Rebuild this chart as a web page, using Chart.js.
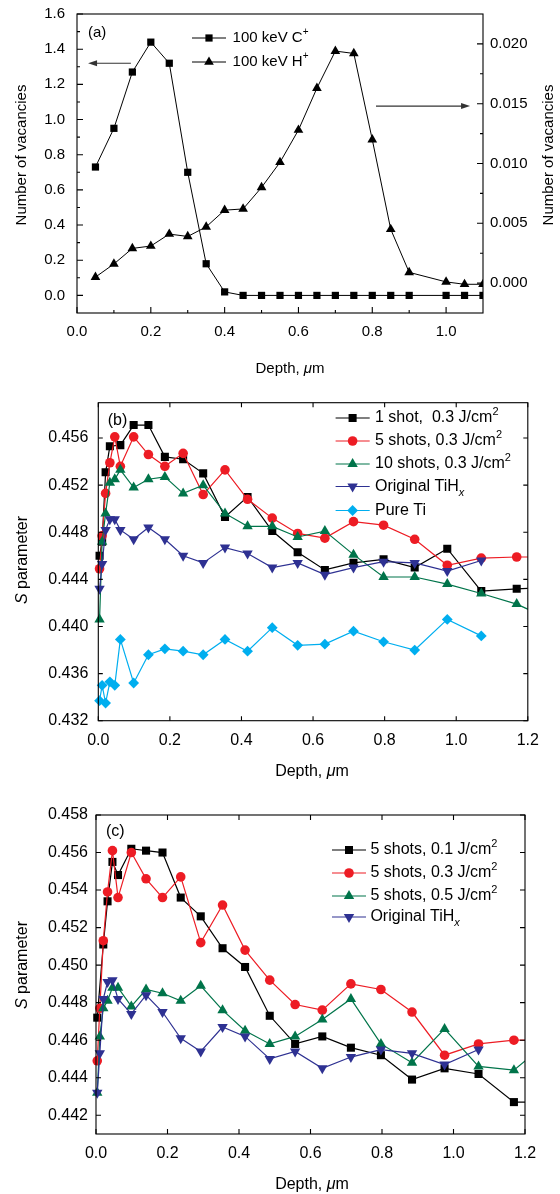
<!DOCTYPE html>
<html>
<head>
<meta charset="utf-8">
<script src="https://cdn.jsdelivr.net/npm/chart.js@4.4.1/dist/chart.umd.min.js"></script>
<style>
  html, body { margin: 0; padding: 0; background: #fff; }
  .panel { position: absolute; left: 0; width: 560px; }
  canvas { display: block; }
</style>
</head>
<body>
<div class="panel" style="top:0"><canvas id="chartA" width="560" height="390"></canvas></div>
<div class="panel" style="top:390px"><canvas id="chartB" width="560" height="400"></canvas></div>
<div class="panel" style="top:790px"><canvas id="chartC" width="560" height="404"></canvas></div>
<script>
const FONT_STACK = '"Liberation Sans", Arial, Helvetica, sans-serif';

// Panel (a): vacancy profiles (C+ on left axis, H+ on right axis)
const depthA = [0.05, 0.1, 0.15, 0.2, 0.25, 0.3, 0.35, 0.4, 0.45, 0.5, 0.55,
                0.6, 0.65, 0.7, 0.75, 0.8, 0.85, 0.9, 1.0, 1.05, 1.1];
const carbonVac = [0.73, 0.95, 1.27, 1.44, 1.32, 0.70, 0.18, 0.02, 0, 0, 0,
                   0, 0, 0, 0, 0, 0, 0, 0, 0, 0];
const hydrogenVac = [0.0005, 0.0016, 0.0029, 0.0031, 0.0041, 0.0039, 0.0047, 0.0061, 0.0062, 0.0080, 0.0101,
                     0.0128, 0.0163, 0.0194, 0.0192, 0.0120, 0.0045, 0.0009, 0.0001, -0.0001, -0.0001];

const ticksAX = [0, 0.2, 0.4, 0.6, 0.8, 1.0];
const minorAX = [0.1, 0.3, 0.5, 0.7, 0.9];
const ticksALeft = [0, 0.2, 0.4, 0.6, 0.8, 1.0, 1.2, 1.4, 1.6];
const minorALeft = [0.1, 0.3, 0.5, 0.7, 0.9, 1.1, 1.3, 1.5];
const ticksARight = [0, 0.005, 0.010, 0.015, 0.020];
const minorARight = [0.0025, 0.0075, 0.0125, 0.0175];

// Panels (b) and (c): S parameter vs positron mean depth
const depthBC = [0.0035, 0.0107, 0.0204, 0.0323, 0.046, 0.0616, 0.0988, 0.140, 0.186, 0.237, 0.293, 0.354,
                 0.417, 0.486, 0.557, 0.633, 0.713, 0.797, 0.884, 0.975, 1.07, 1.169, 1.27];

const sOneShot03 = [0.4460, 0.4472, 0.4531, 0.4553, null, 0.4554, 0.4571, 0.4571, 0.4544, 0.4542, 0.4530, 0.4493,
                    0.4510, 0.4481, 0.4463, 0.4448, 0.4454, 0.4457, 0.4450, 0.4466, 0.4430, 0.4432, 0.4433];
const sFiveShots03 = [0.4449, 0.4477, 0.4513, 0.4539, 0.4561, 0.4536, 0.4561, 0.4546, 0.4536, 0.4547, 0.4512, 0.4533,
                      0.4508, 0.4492, 0.4479, 0.4475, 0.4489, 0.4486, 0.4474, 0.4452, 0.4458, 0.4459, 0.4459];
const sTenShots03 = [0.4406, 0.4472, 0.4496, 0.4522, 0.4525, 0.4533, 0.4518, 0.4525, 0.4527, 0.4513, 0.4520, 0.4496,
                     0.4485, 0.4485, 0.4476, 0.4481, 0.4461, 0.4442, 0.4442, 0.4436, 0.4428, 0.4419, 0.4405];
const sOriginalB = [0.4432, 0.4453, 0.4482, 0.4491, 0.4491, 0.4482, 0.4474, 0.4484, 0.4474, 0.4460, 0.4454, 0.4467,
                    0.4462, 0.4450, 0.4454, 0.4444, 0.4450, 0.4455, 0.4454, 0.4447, 0.4456, null, null];
const sPureTi = [0.4337, 0.4350, 0.4335, 0.4353, 0.4350, 0.4389, 0.4352, 0.4376, 0.4381, 0.4379, 0.4376, 0.4389,
                 0.4379, 0.4399, 0.4384, 0.4385, 0.4396, 0.4387, 0.4380, 0.4406, 0.4392, null, null];

const sFiveShots01 = [0.4472, null, 0.4511, 0.4534, 0.4555, 0.4548, 0.4562, 0.4561, 0.4560, 0.4536, 0.4526, 0.4509,
                      0.4499, 0.4473, 0.4458, 0.4462, 0.4456, 0.4452, 0.4439, 0.4445, 0.4442, 0.4427, 0.4427];
const sFiveShots03c = [0.4449, 0.4477, 0.4513, 0.4539, 0.4561, 0.4536, 0.4560, 0.4546, 0.4536, 0.4547, 0.4512, 0.4532,
                       0.4508, 0.4492, 0.4479, 0.4476, 0.4490, 0.4487, 0.4475, 0.4452, 0.4458, 0.4460, 0.4460];
const sFiveShots05 = [0.4432, 0.4462, 0.4477, 0.4481, 0.4488, 0.4488, 0.4478, 0.4487, 0.4485, 0.4481, 0.4489, 0.4476,
                      0.4465, 0.4458, 0.4462, 0.4471, 0.4482, 0.4458, 0.4448, 0.4466, 0.4446, 0.4444, 0.4460];
const sOriginalC = [0.4432, 0.4453, 0.4482, 0.4491, 0.4492, 0.4482, 0.4474, 0.4484, 0.4475, 0.4461, 0.4454, 0.4467,
                    0.4462, 0.4450, 0.4454, 0.4445, 0.4451, 0.4455, 0.4453, 0.4447, 0.4455, null, null];

const ticksBCX = [0, 0.2, 0.4, 0.6, 0.8, 1.0, 1.2];
const ticksBY = [0.432, 0.436, 0.440, 0.444, 0.448, 0.452, 0.456];
const ticksCY = [0.442, 0.444, 0.446, 0.448, 0.450, 0.452, 0.454, 0.456, 0.458];

const COLORS = { black: '#000000', red: '#ed1c24', green: '#00744a', navy: '#2e3192', cyan: '#00aeef' };

// Helpers

function toPoints(xs, ys) {
  return xs.map((x, i) => ({ x, y: ys[i] })).filter(p => p.y !== null);
}

function fontStr(size, italic) {
  return (italic ? 'italic ' : '') + size + 'px ' + FONT_STACK;
}

// "{^:+}" superscript, "{_:x}" italic subscript, "{i:μ}" italic
function parseRich(str) {
  const parts = [];
  const re = /\{([\^_i]):([^}]*)\}/g;
  let last = 0, m;
  while ((m = re.exec(str))) {
    if (m.index > last) parts.push({ t: str.slice(last, m.index) });
    parts.push({ t: m[2], sup: m[1] === '^', sub: m[1] === '_', it: m[1] !== '^' });
    last = re.lastIndex;
  }
  if (last < str.length) parts.push({ t: str.slice(last) });
  return parts;
}

function drawRich(ctx, str, x, y, size, align) {
  const parts = parseRich(str);
  const sizeOf = p => (p.sup || p.sub) ? Math.round(size * 0.66) : size;
  let w = 0;
  parts.forEach(p => { ctx.font = fontStr(sizeOf(p), p.it); p.w = ctx.measureText(p.t).width; w += p.w; });
  let cx = align === 'center' ? x - w / 2 : align === 'right' ? x - w : x;
  ctx.textAlign = 'left';
  ctx.textBaseline = 'middle';
  parts.forEach(p => {
    const dy = p.sup ? -size * 0.36 : p.sub ? size * 0.38 : 0;
    ctx.font = fontStr(sizeOf(p), p.it);
    ctx.fillText(p.t, cx, y + dy);
    cx += p.w;
  });
}

function drawMarker(ctx, style, x, y, r, rot) {
  ctx.beginPath();
  if (style === 'rect') {
    const s = r * Math.SQRT1_2;
    ctx.rect(x - s, y - s, 2 * s, 2 * s);
  } else if (style === 'circle') {
    ctx.arc(x, y, r, 0, Math.PI * 2);
  } else if (style === 'triangle') {
    let a = (rot || 0) * Math.PI / 180;
    ctx.moveTo(x + Math.sin(a) * r, y - Math.cos(a) * r);
    a += 2 * Math.PI / 3;
    ctx.lineTo(x + Math.sin(a) * r, y - Math.cos(a) * r);
    a += 2 * Math.PI / 3;
    ctx.lineTo(x + Math.sin(a) * r, y - Math.cos(a) * r);
  } else if (style === 'rectRot') {
    ctx.moveTo(x - r, y); ctx.lineTo(x, y - r); ctx.lineTo(x + r, y); ctx.lineTo(x, y + r);
  }
  ctx.closePath();
  ctx.fill();
}

// Decorations per canvas: frame, inward ticks, titles, legend, arrows
const decos = {};

const decoPlugin = {
  id: 'deco',
  afterDatasetsDraw(chart) {
    const d = decos[chart.canvas.id];
    if (!d) return;
    const ctx = chart.ctx;
    const a = chart.chartArea;
    ctx.save();
    ctx.strokeStyle = '#000';
    ctx.fillStyle = '#000';
    ctx.lineWidth = 1.1;
    ctx.strokeRect(a.left, a.top, a.right - a.left, a.bottom - a.top);

    d.ticks.forEach(t => {
      const scale = chart.scales[t.axis];
      ctx.beginPath();
      t.values.forEach(v => {
        const p = scale.getPixelForValue(v);
        t.sides.forEach(side => {
          if (side === 'bottom') { ctx.moveTo(p, a.bottom); ctx.lineTo(p, a.bottom - t.len); }
          if (side === 'top') { ctx.moveTo(p, a.top); ctx.lineTo(p, a.top + t.len); }
          if (side === 'left') { ctx.moveTo(a.left, p); ctx.lineTo(a.left + t.len, p); }
          if (side === 'right') { ctx.moveTo(a.right, p); ctx.lineTo(a.right - t.len, p); }
        });
      });
      ctx.stroke();
    });

    (d.arrows || []).forEach(ar => {
      const y = chart.scales[ar.yAxis].getPixelForValue(ar.y);
      const x0 = chart.scales.x.getPixelForValue(ar.from);
      const x1 = chart.scales.x.getPixelForValue(ar.to);
      const dir = Math.sign(x1 - x0);
      ctx.strokeStyle = '#333';
      ctx.fillStyle = '#333';
      ctx.lineWidth = 1.2;
      ctx.beginPath(); ctx.moveTo(x0, y); ctx.lineTo(x1 - dir * 7, y); ctx.stroke();
      ctx.beginPath(); ctx.moveTo(x1, y); ctx.lineTo(x1 - dir * 9, y - 3); ctx.lineTo(x1 - dir * 9, y + 3);
      ctx.closePath(); ctx.fill();
    });

    ctx.fillStyle = '#000';
    d.texts.forEach(t => {
      ctx.save();
      ctx.translate(t.x, t.y);
      if (t.rotate) ctx.rotate(-Math.PI / 2);
      drawRich(ctx, t.str, 0, 0, t.size, t.align);
      ctx.restore();
    });

    const lg = d.legend;
    lg.rows.forEach(r => {
      ctx.strokeStyle = r.color;
      ctx.fillStyle = r.color;
      ctx.lineWidth = lg.lineWidth;
      ctx.beginPath(); ctx.moveTo(lg.x0, r.y); ctx.lineTo(lg.x1, r.y); ctx.stroke();
      drawMarker(ctx, r.style, lg.xm, r.y, r.radius, r.rotation);
      ctx.fillStyle = '#000';
      drawRich(ctx, r.label, lg.textX, r.y, lg.size, 'left');
    });
    ctx.restore();
  }
};

function fixTicks(values) {
  return scale => { scale.ticks = values.map(v => ({ value: v })); };
}

// fixed box size, and no extra label overhang so the plot area lands where it should
function fixSize(size) {
  return scale => {
    if (scale.isHorizontal()) scale.height = size; else scale.width = size;
    scale.paddingTop = 0;
    scale.paddingBottom = 0;
    scale.paddingLeft = 0;
    scale.paddingRight = 0;
  };
}

function linearAxis(o) {
  return {
    type: 'linear',
    position: o.position,
    min: o.min,
    max: o.max,
    afterBuildTicks: fixTicks(o.ticks),
    afterFit: fixSize(o.box),
    grid: { display: false, drawTicks: false },
    border: { display: false },
    ticks: {
      autoSkip: false,
      maxRotation: 0,
      padding: o.padding,
      color: '#000',
      font: { family: FONT_STACK, size: o.size },
      callback: v => Number(v).toFixed(o.digits)
    }
  };
}

function series(label, xs, ys, color, style, radius, extra) {
  return Object.assign({
    label,
    data: toPoints(xs, ys),
    borderColor: color,
    backgroundColor: color,
    pointBackgroundColor: color,
    pointBorderColor: color,
    pointBorderWidth: 0,
    pointStyle: style,
    pointRadius: radius,
    pointHoverRadius: radius,
    borderWidth: 1.2,
    tension: 0
  }, extra || {});
}

const baseOptions = {
  responsive: false,
  animation: false,
  events: [],
  plugins: { legend: { display: false }, tooltip: { enabled: false } }
};

// Panel (a)

decos.chartA = {
  ticks: [
    { axis: 'x', values: ticksAX, sides: ['bottom'], len: 6 },
    { axis: 'x', values: minorAX, sides: ['bottom'], len: 3 },
    { axis: 'yL', values: ticksALeft, sides: ['left'], len: 6 },
    { axis: 'yL', values: minorALeft, sides: ['left'], len: 3 },
    { axis: 'yR', values: ticksARight, sides: ['right'], len: 6 },
    { axis: 'yR', values: minorARight, sides: ['right'], len: 3 }
  ],
  arrows: [
    { yAxis: 'yL', y: 1.32, from: 0.146, to: 0.03 },
    { yAxis: 'yR', y: 0.0148, from: 0.81, to: 1.065 }
  ],
  texts: [
    { str: '(a)', x: 88, y: 33, size: 15, align: 'left' },
    { str: 'Depth, {i:μ}m', x: 290, y: 369, size: 15, align: 'center' },
    { str: 'Number of vacancies', x: 21.5, y: 155, size: 15, align: 'center', rotate: true },
    { str: 'Number of vacancies', x: 549, y: 155, size: 15, align: 'center', rotate: true }
  ],
  legend: {
    x0: 192, x1: 226, xm: 209, textX: 232.6, size: 15, lineWidth: 1,
    rows: [
      { y: 38, color: '#000', style: 'rect', radius: 5.1, label: '100 keV C{^:+}' },
      { y: 62, color: '#000', style: 'triangle', radius: 5.6, label: '100 keV H{^:+}' }
    ]
  }
};

new Chart(document.getElementById('chartA'), {
  type: 'line',
  data: {
    datasets: [
      series('100 keV C+', depthA, carbonVac, '#000', 'rect', 5.1, { borderWidth: 1, yAxisID: 'yL' }),
      series('100 keV H+', depthA, hydrogenVac, '#000', 'triangle', 5.6, { borderWidth: 1, yAxisID: 'yR' })
    ]
  },
  options: Object.assign({}, baseOptions, {
    layout: { padding: { top: 14, left: 0, right: 0, bottom: 0 } },
    scales: {
      x: linearAxis({ position: 'bottom', min: 0, max: 1.1, ticks: ticksAX, digits: 1, size: 15, padding: 10, box: 77 }),
      yL: linearAxis({ position: 'left', min: -0.1, max: 1.6, ticks: ticksALeft, digits: 1, size: 15, padding: 12, box: 77 }),
      yR: linearAxis({ position: 'right', min: -0.0025, max: 0.0225, ticks: ticksARight, digits: 3, size: 15, padding: 7, box: 77 })
    }
  }),
  plugins: [decoPlugin]
});

// Panel (b)

const clipRight = { left: 8, top: 8, bottom: 8, right: 0 };

decos.chartB = {
  ticks: [
    { axis: 'x', values: ticksBCX, sides: ['bottom', 'top'], len: 4.5 },
    { axis: 'y', values: ticksBY, sides: ['left', 'right'], len: 4.5 }
  ],
  texts: [
    { str: '(b)', x: 107.7, y: 30.7, size: 16, align: 'left' },
    { str: 'Depth, {i:μ}m', x: 312, y: 382, size: 16, align: 'center' },
    { str: '{i:S} parameter', x: 23, y: 170, size: 16, align: 'center', rotate: true }
  ],
  legend: {
    x0: 335.6, x1: 369.7, xm: 352.6, textX: 375, size: 16, lineWidth: 1.2,
    rows: [
      { y: 28, color: COLORS.black, style: 'rect', radius: 5.7, label: '1 shot,  0.3 J/cm{^:2}' },
      { y: 51, color: COLORS.red, style: 'circle', radius: 4.8, label: '5 shots, 0.3 J/cm{^:2}' },
      { y: 74, color: COLORS.green, style: 'triangle', radius: 6, label: '10 shots, 0.3 J/cm{^:2}' },
      { y: 96.5, color: COLORS.navy, style: 'triangle', radius: 6, rotation: 180, label: 'Original TiH{_:x}' },
      { y: 120.5, color: COLORS.cyan, style: 'rectRot', radius: 5.4, label: 'Pure Ti' }
    ]
  }
};

new Chart(document.getElementById('chartB'), {
  type: 'line',
  data: {
    datasets: [
      series('1 shot, 0.3 J/cm2', depthBC, sOneShot03, COLORS.black, 'rect', 5.7, { order: 10, clip: clipRight }),
      series('5 shots, 0.3 J/cm2', depthBC, sFiveShots03, COLORS.red, 'circle', 4.8, { order: 9, clip: clipRight }),
      series('10 shots, 0.3 J/cm2', depthBC, sTenShots03, COLORS.green, 'triangle', 6, { order: 8, clip: clipRight }),
      series('Original TiHx', depthBC, sOriginalB, COLORS.navy, 'triangle', 6, { order: 7, clip: clipRight, pointRotation: 180 }),
      series('Pure Ti', depthBC, sPureTi, COLORS.cyan, 'rectRot', 5.4, { order: 6, clip: clipRight })
    ]
  },
  options: Object.assign({}, baseOptions, {
    layout: { padding: { top: 12.7, left: 0, right: 32.2, bottom: 0 } },
    scales: {
      x: linearAxis({ position: 'bottom', min: 0, max: 1.2, ticks: ticksBCX, digits: 1, size: 16, padding: 10, box: 69.3 }),
      y: linearAxis({ position: 'left', min: 0.432, max: 0.459, ticks: ticksBY, digits: 3, size: 16, padding: 10, box: 98.3 })
    }
  }),
  plugins: [decoPlugin]
});

// Panel (c)

decos.chartC = {
  ticks: [
    { axis: 'x', values: ticksBCX, sides: ['bottom', 'top'], len: 5 },
    { axis: 'y', values: ticksCY, sides: ['left', 'right'], len: 5 }
  ],
  texts: [
    { str: '(c)', x: 106, y: 42, size: 16, align: 'left' },
    { str: 'Depth, {i:μ}m', x: 312, y: 395, size: 16, align: 'center' },
    { str: '{i:S} parameter', x: 23, y: 175, size: 16, align: 'center', rotate: true }
  ],
  legend: {
    x0: 332, x1: 366, xm: 349, textX: 370.4, size: 16, lineWidth: 1.2,
    rows: [
      { y: 60, color: COLORS.black, style: 'rect', radius: 5.7, label: '5 shots, 0.1 J/cm{^:2}' },
      { y: 83, color: COLORS.red, style: 'circle', radius: 4.8, label: '5 shots, 0.3 J/cm{^:2}' },
      { y: 106, color: COLORS.green, style: 'triangle', radius: 6, label: '5 shots, 0.5 J/cm{^:2}' },
      { y: 127, color: COLORS.navy, style: 'triangle', radius: 6, rotation: 180, label: 'Original TiH{_:x}' }
    ]
  }
};

new Chart(document.getElementById('chartC'), {
  type: 'line',
  data: {
    datasets: [
      series('5 shots, 0.1 J/cm2', depthBC, sFiveShots01, COLORS.black, 'rect', 5.7, { order: 10, clip: clipRight }),
      series('5 shots, 0.3 J/cm2', depthBC, sFiveShots03c, COLORS.red, 'circle', 4.8, { order: 9, clip: clipRight }),
      series('5 shots, 0.5 J/cm2', depthBC, sFiveShots05, COLORS.green, 'triangle', 6, { order: 8, clip: clipRight }),
      series('Original TiHx', depthBC, sOriginalC, COLORS.navy, 'triangle', 6, { order: 7, clip: clipRight, pointRotation: 180 })
    ]
  },
  options: Object.assign({}, baseOptions, {
    layout: { padding: { top: 25, left: 0, right: 35, bottom: 0 } },
    scales: {
      x: linearAxis({ position: 'bottom', min: 0, max: 1.2, ticks: ticksBCX, digits: 1, size: 16, padding: 9.5, box: 60 }),
      y: linearAxis({ position: 'left', min: 0.441, max: 0.458, ticks: ticksCY, digits: 3, size: 16, padding: 8, box: 96 })
    }
  }),
  plugins: [decoPlugin]
});
</script>
</body>
</html>
